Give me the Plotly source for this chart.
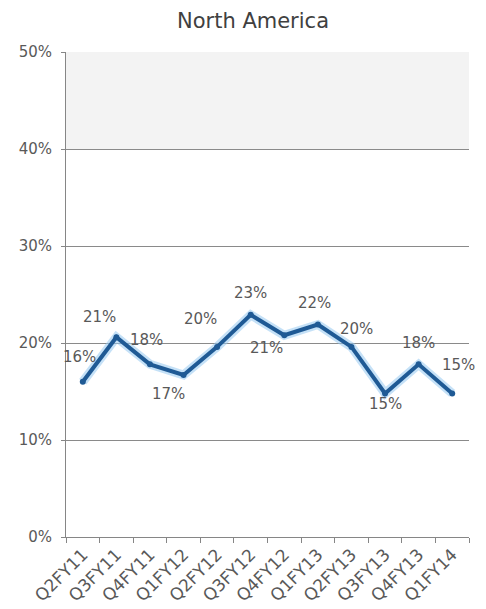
import plotly.graph_objects as go

categories = ["Q2FY11", "Q3FY11", "Q4FY11", "Q1FY12", "Q2FY12", "Q3FY12",
              "Q4FY12", "Q1FY13", "Q2FY13", "Q3FY13", "Q4FY13", "Q1FY14"]
values = [0.160, 0.206, 0.178, 0.167, 0.196, 0.229,
          0.208, 0.219, 0.196, 0.148, 0.178, 0.148]
labels = ["16%", "21%", "18%", "17%", "20%", "23%",
          "21%", "22%", "20%", "15%", "18%", "15%"]
# label offsets in pixels (x, y) relative to the point
label_dx = [-3, -17, -3, -15, -17, 0, -18, -3, 5, 0, 0, 6]
label_dy = [25, 20, 24, -19, 28, 22, -13, 22, 18, -11, 21, 28]

FONT = "DejaVu Sans"
GRAY = "#595959"
LINE = "#1f5a95"

fig = go.Figure()

# glow under the line
fig.add_trace(go.Scatter(
    x=categories, y=values, mode="lines",
    line=dict(color="rgba(150,200,240,0.55)", width=9),
    hoverinfo="skip", showlegend=False,
))
fig.add_trace(go.Scatter(
    x=categories, y=values, mode="lines+markers",
    line=dict(color=LINE, width=4),
    marker=dict(color=LINE, size=6),
    showlegend=False,
))

for c, v, t, dx, dy in zip(categories, values, labels, label_dx, label_dy):
    fig.add_annotation(x=c, y=v, text=t, showarrow=False,
                       xshift=dx, yshift=dy,
                       font=dict(family=FONT, size=15, color=GRAY))

# shaded top band
fig.add_shape(type="rect", xref="paper", yref="y", x0=0, x1=1, y0=0.4, y1=0.5,
              fillcolor="#f3f3f3", line=dict(width=0), layer="below")

W, H = 478, 601
fig.update_layout(
    width=W, height=H,
    margin=dict(l=58, r=17, t=44, b=72, autoexpand=False),
    paper_bgcolor="white", plot_bgcolor="white",
    title=dict(text="North America", x=245 / W, xanchor="center",
               y=1 - 13 / H, yanchor="middle", yref="container",
               font=dict(family=FONT, size=21, color="#404040")),
    xaxis=dict(type="category", range=[-0.5, 11.5], tickson="boundaries",
               ticks="outside", ticklen=5, tickcolor="#868686",
               showline=True, linecolor="#868686", linewidth=1,
               showgrid=False, tickangle=-45,
               tickfont=dict(family=FONT, size=17, color=GRAY)),
    yaxis=dict(range=[0, 0.5], dtick=0.1, tickformat=".0%",
               ticks="outside", ticklen=4, tickcolor="#868686",
               showline=True, linecolor="#868686", linewidth=1,
               showgrid=True, gridcolor="#8a8a8a", gridwidth=1,
               zeroline=False, ticklabelstandoff=6,
               tickfont=dict(family=FONT, size=15, color=GRAY)),
)

fig.write_html("out.html")
